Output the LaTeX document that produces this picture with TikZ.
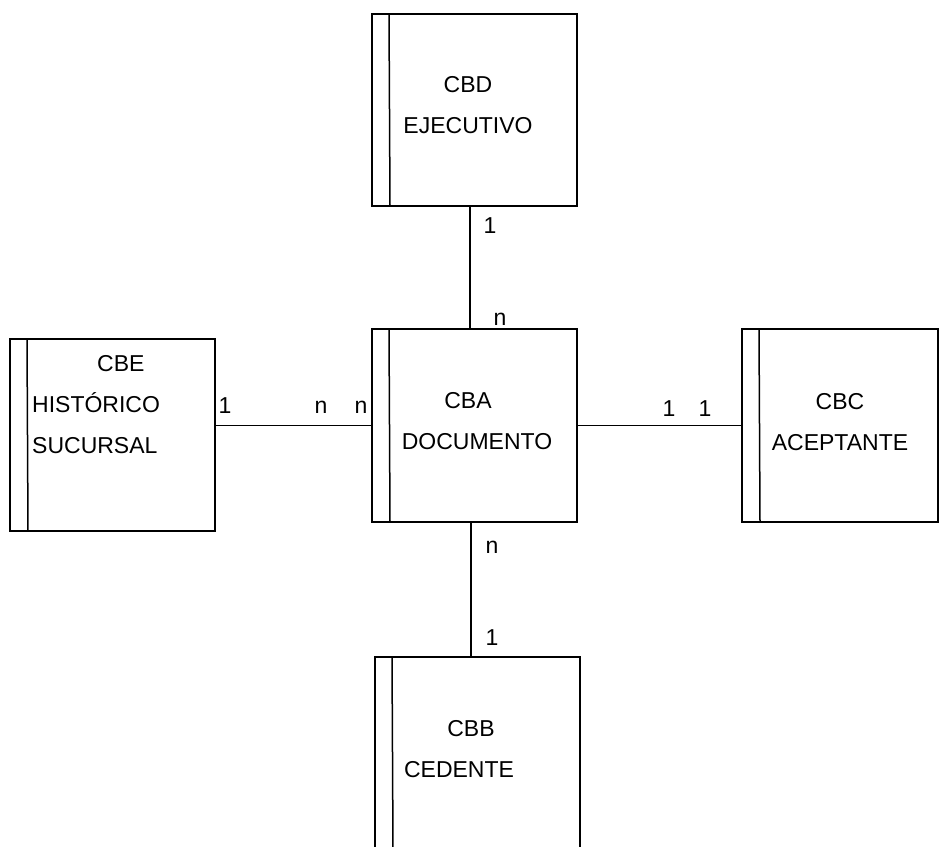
\documentclass[tikz,border=0pt]{standalone}
\usepackage{fontspec}
\setmainfont{Liberation Sans}
\usepackage{tikz}
\usetikzlibrary{calc,positioning}

\tikzset{
  tabla/.style={draw, line width=1.5pt, minimum width=205pt, minimum height=192pt, inner sep=0pt,
    path picture={\draw[line width=1.5pt] ([xshift=17pt]path picture bounding box.north west) -- ([xshift=18pt]path picture bounding box.south west);}},
  nombre/.style={font=\fontsize{23}{41}\selectfont, inner sep=0pt, anchor=base},
  card/.style={font=\fontsize{23}{27}\selectfont, inner sep=0pt, anchor=base},
  rel/.style={line width=1.5pt}
}

\begin{document}
\begin{tikzpicture}[x=1pt,y=-1pt]
\useasboundingbox (0,0) rectangle (939,846);
% tablas
\node[tabla] (cbd) at (474.5,110) {};
\node[tabla, minimum height=193pt] (cba) at (474.5,425.5) {};
\node[tabla] (cbe) at (112.5,435) {};
\node[tabla, minimum width=196pt, minimum height=193pt] (cbc) at (840,425.5) {};
\node[tabla] (cbb) at (477.5,753) {};
% textos
\node[nombre, align=center] (cbdtxt) at (468,133) {CBD\\EJECUTIVO};
\node[nombre, align=center] (cbatxt) at (477,449) {CBA\hspace*{18pt}\\DOCUMENTO};
\node[nombre, align=left, anchor=base west] (cbetxt) at (32,453) {\hspace*{65pt}CBE\\HISTÓRICO\\SUCURSAL};
\node[nombre, align=center] (cbctxt) at (840,450) {CBC\\ACEPTANTE};
\node[nombre, align=center] (cbbtxt) at (459,777) {\hspace*{24pt}CBB\\CEDENTE};
% relaciones
\draw[rel] ([xshift=-4.5pt]cbd.south) -- ([xshift=-4.5pt]cba.north);
\draw[rel] ([xshift=-3.5pt]cba.south) -- ([xshift=-3.5pt]cba.south |- cbb.north);
\draw[rel] (cba.west) -- (cba.west -| cbe.east);
\draw[rel] (cba.east) -- (cbc.west);
% cardinalidades
\node[card] (c1) at (490,233) {1};
\node[card] (c2) at (500,325) {n};
\node[card] (c3) at (225,413) {1};
\node[card] (c4) at (321,413) {n};
\node[card] (c5) at (361,413) {n};
\node[card] (c6) at (669,416) {1};
\node[card] (c7) at (705,416) {1};
\node[card] (c8) at (492,553) {n};
\node[card] (c9) at (492,645) {1};
\end{tikzpicture}
\end{document}
